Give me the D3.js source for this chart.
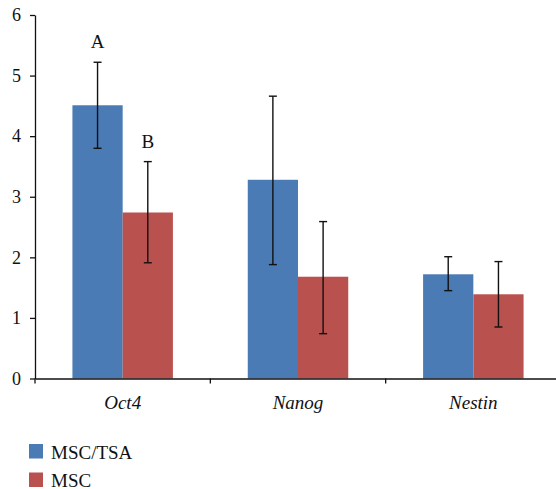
<!DOCTYPE html>
<html>
<head>
<meta charset="utf-8">
<script src="https://cdn.jsdelivr.net/npm/d3@7"></script>
<style>
  body { margin: 0; background: #fff; }
  text { font-family: "Liberation Serif", "DejaVu Serif", serif; fill: #111; }
</style>
</head>
<body>
<div id="chart"></div>
<script>
// data
const genes = ["Oct4", "Nanog", "Nestin"];
const seriesNames = ["MSC/TSA", "MSC"];
const mscTsa = [4.51, 3.28, 1.72];
const mscTsaLow = [3.80, 1.88, 1.45];
const mscTsaHigh = [5.22, 4.66, 2.01];
const msc = [2.74, 1.68, 1.39];
const mscLow = [1.91, 0.74, 0.85];
const mscHigh = [3.58, 2.59, 1.93];
const yTicks = [0, 1, 2, 3, 4, 5, 6];
const letters = [{gene: "Oct4", series: "MSC/TSA", text: "A", value: 5.22},
                 {gene: "Oct4", series: "MSC", text: "B", value: 3.58}];

const colors = {"MSC/TSA": "#4a7bb5", "MSC": "#b9514e"};
const serif = "Liberation Serif, DejaVu Serif, serif";

const W = 556, H = 489;
const plot = {left: 35, right: 561, top: 15, bottom: 378.5};

const svg = d3.select("#chart").append("svg")
    .attr("width", W)
    .attr("height", H);

const x = d3.scaleBand()
    .domain(genes)
    .range([plot.left, plot.right]);

const xInner = d3.scaleBand()
    .domain(seriesNames)
    .range([0, x.bandwidth()])
    .paddingInner(0)
    .paddingOuter(0.745);

const y = d3.scaleLinear()
    .domain([0, 6])
    .range([plot.bottom, plot.top]);

const rows = [];
genes.forEach((g, i) => {
    rows.push({gene: g, series: "MSC/TSA", value: mscTsa[i], lo: mscTsaLow[i], hi: mscTsaHigh[i]});
    rows.push({gene: g, series: "MSC", value: msc[i], lo: mscLow[i], hi: mscHigh[i]});
});

// bars
svg.selectAll(".bar")
    .data(rows)
    .enter().append("rect")
    .attr("class", "bar")
    .attr("x", d => x(d.gene) + xInner(d.series))
    .attr("width", xInner.bandwidth())
    .attr("y", d => y(d.value))
    .attr("height", d => y(0) - y(d.value))
    .attr("fill", d => colors[d.series]);

// error bars
const cx = d => x(d.gene) + xInner(d.series) + xInner.bandwidth() / 2;
const err = svg.selectAll(".err")
    .data(rows)
    .enter().append("g")
    .attr("class", "err")
    .attr("stroke", "#111")
    .attr("stroke-width", 1.4);
err.append("line")
    .attr("x1", cx).attr("x2", cx)
    .attr("y1", d => y(d.lo)).attr("y2", d => y(d.hi));
err.append("line")
    .attr("x1", d => cx(d) - 4).attr("x2", d => cx(d) + 4)
    .attr("y1", d => y(d.hi)).attr("y2", d => y(d.hi));
err.append("line")
    .attr("x1", d => cx(d) - 4).attr("x2", d => cx(d) + 4)
    .attr("y1", d => y(d.lo)).attr("y2", d => y(d.lo));

// significance letters
svg.selectAll(".letter")
    .data(letters)
    .enter().append("text")
    .attr("class", "letter")
    .attr("x", d => x(d.gene) + xInner(d.series) + xInner.bandwidth() / 2)
    .attr("y", d => y(d.value) - 14)
    .attr("text-anchor", "middle")
    .style("font-size", "19px")
    .text(d => d.text);

// Y axis
const yAxis = svg.append("g")
    .attr("transform", "translate(" + plot.left + ",0)")
    .call(d3.axisLeft(y).tickValues(yTicks).tickSize(5).tickSizeOuter(0).tickFormat(d3.format("d")))
    .attr("font-family", serif)
    .attr("font-size", 18);
yAxis.select(".domain").attr("stroke", "#111").attr("stroke-width", 1.3);
yAxis.selectAll(".tick line").attr("stroke", "#111").attr("stroke-width", 1.3);
yAxis.selectAll(".tick text")
    .attr("x", -14)
    .attr("fill", "#111");

// X axis
const xAxis = svg.append("g")
    .attr("transform", "translate(0," + plot.bottom + ")")
    .call(d3.axisBottom(x).tickSize(0).tickSizeOuter(0))
    .attr("font-family", serif)
    .attr("font-size", 19);
xAxis.select(".domain").attr("stroke", "#111").attr("stroke-width", 1.3);
xAxis.selectAll(".tick text")
    .attr("y", 17)
    .attr("font-style", "italic")
    .attr("fill", "#111");

// category boundary ticks
xAxis.selectAll(".sep")
    .data(genes)
    .enter().append("line")
    .attr("class", "sep")
    .attr("x1", d => x(d)).attr("x2", d => x(d))
    .attr("y1", 0).attr("y2", 5)
    .attr("stroke", "#111")
    .attr("stroke-width", 1.3);

// legend
const legend = svg.selectAll(".legend")
    .data(seriesNames)
    .enter().append("g")
    .attr("class", "legend")
    .attr("transform", (d, i) => "translate(29," + (444 + i * 28.5) + ")");
legend.append("rect")
    .attr("width", 14)
    .attr("height", 14.5)
    .attr("fill", d => colors[d]);
legend.append("text")
    .attr("x", 22)
    .attr("y", 14.5)
    .style("font-size", "19px")
    .text(d => d);
</script>
</body>
</html>
